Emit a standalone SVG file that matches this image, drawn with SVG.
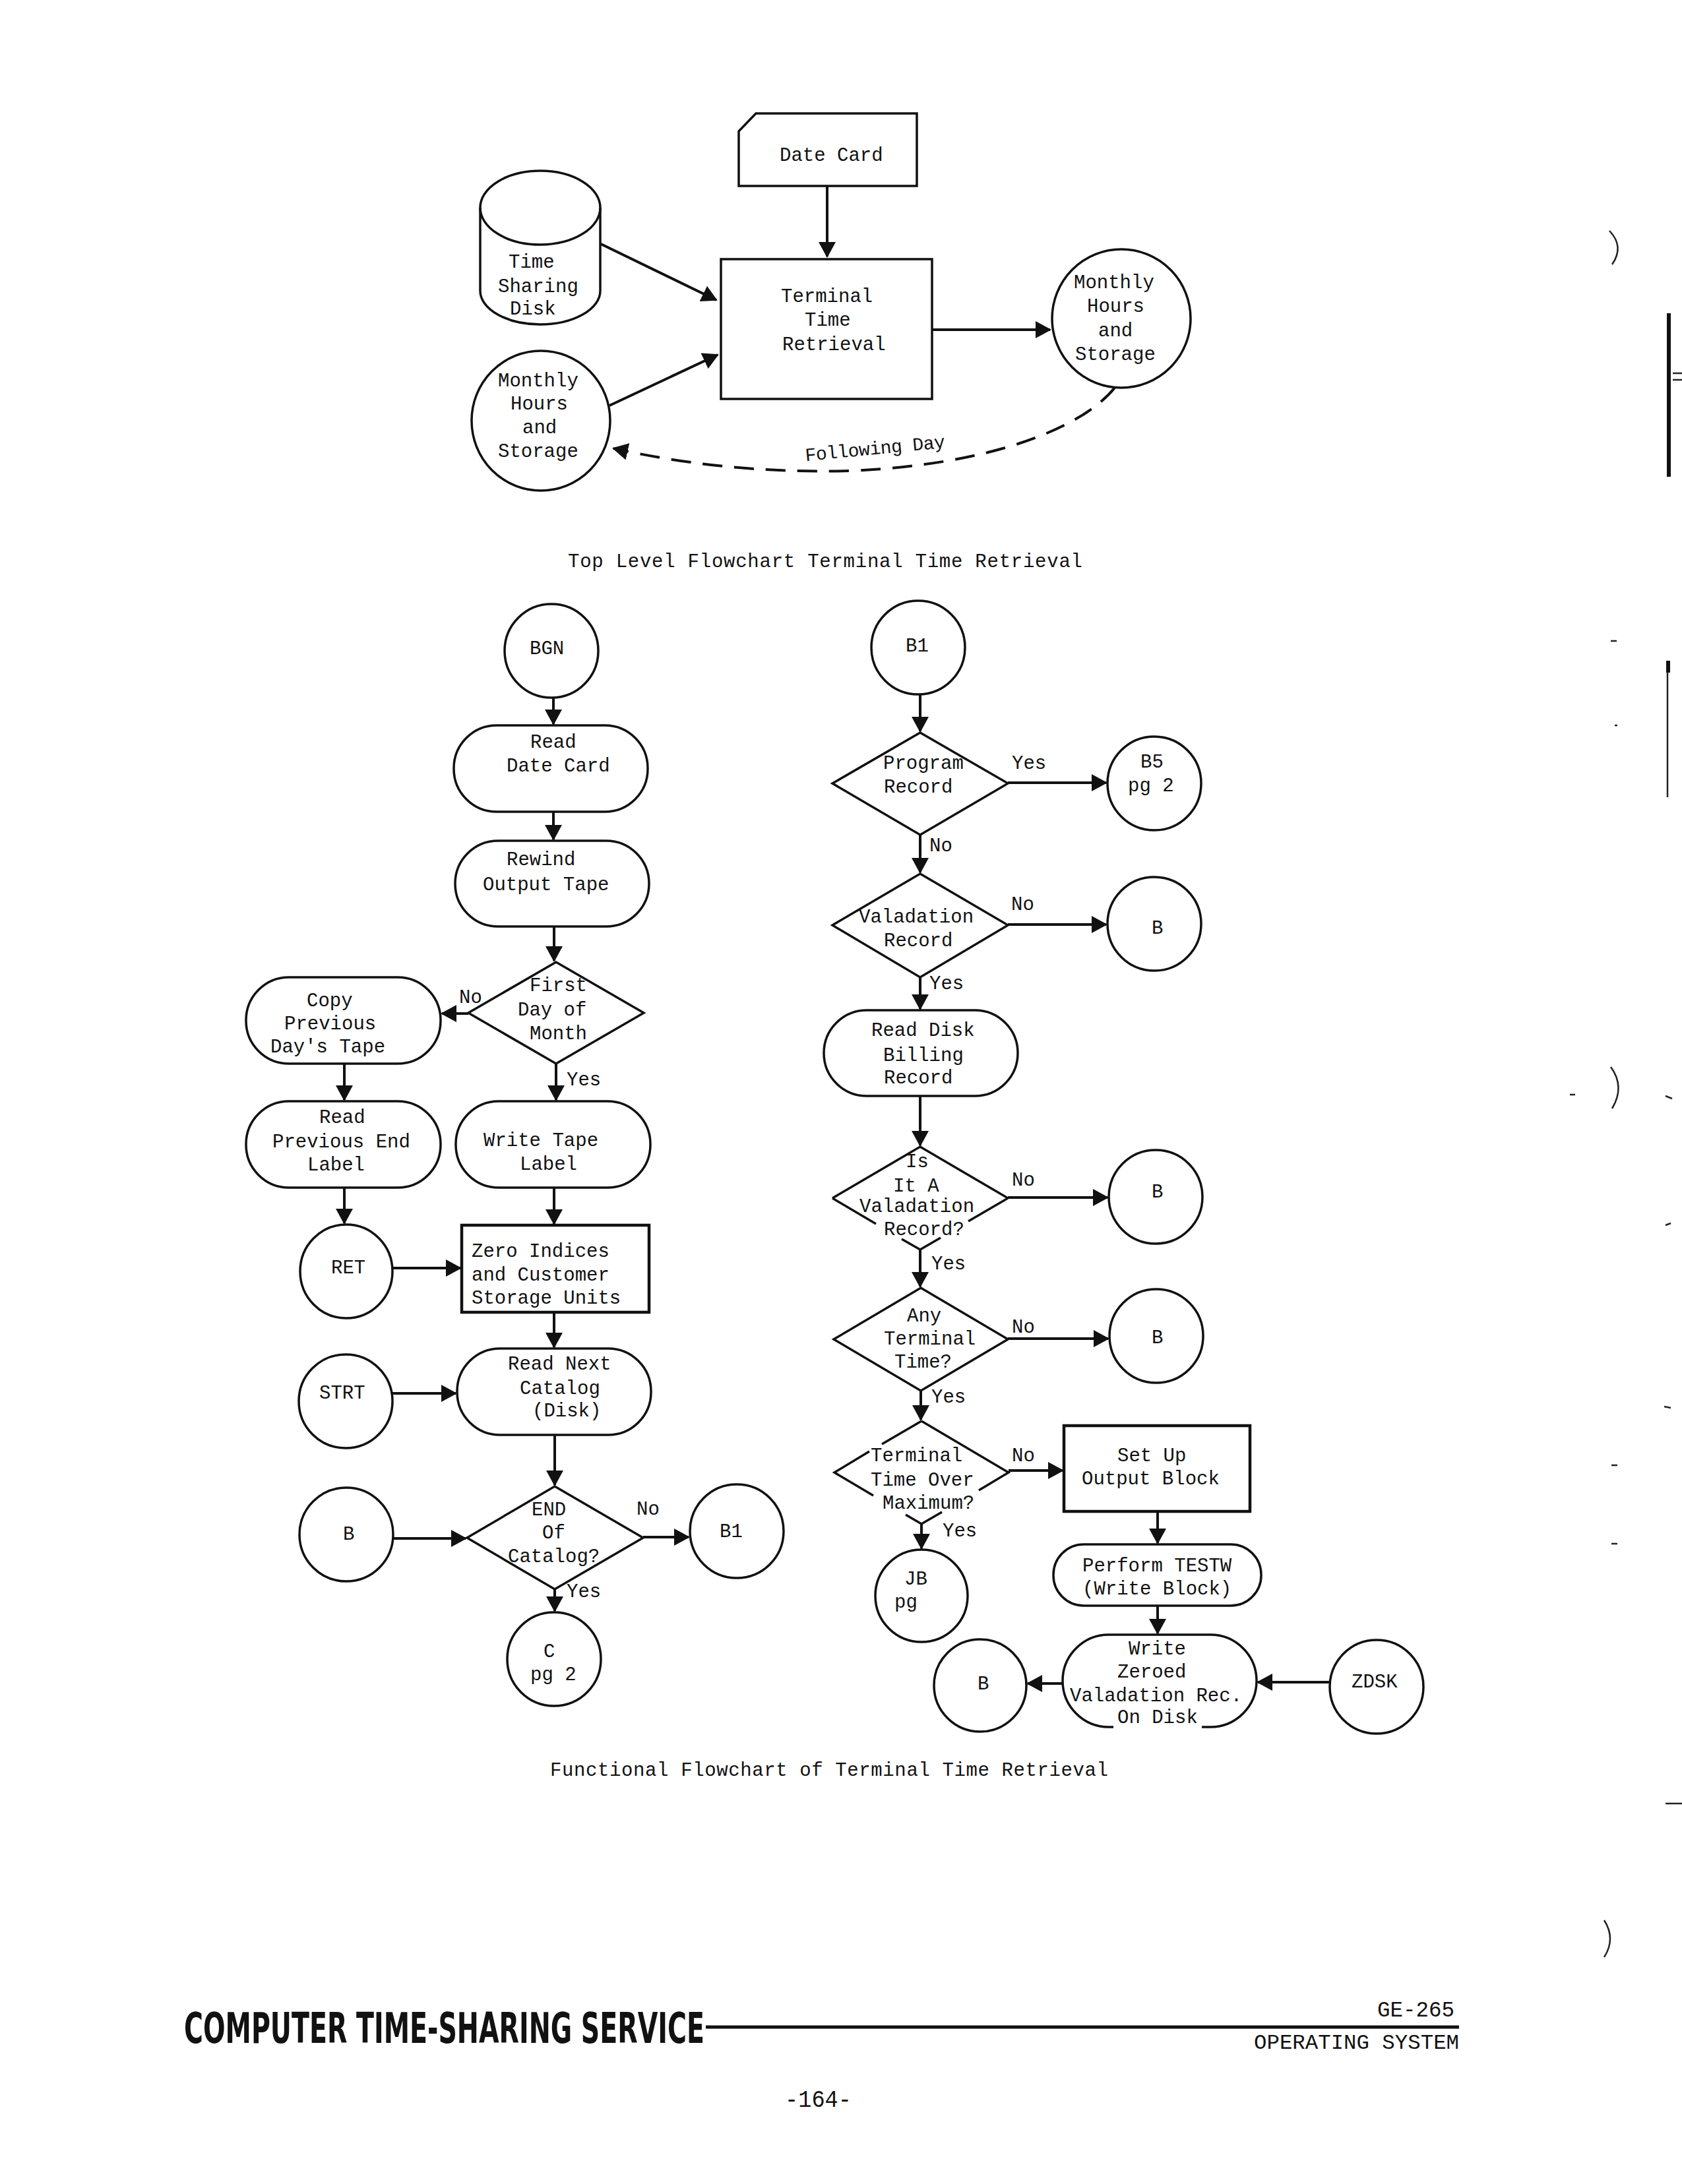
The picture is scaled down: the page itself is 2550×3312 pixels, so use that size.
<svg xmlns="http://www.w3.org/2000/svg" width="2550" height="3312" viewBox="0 0 2550 3312">
<defs>
  <marker id="ah" viewBox="0 0 24 26" refX="22" refY="13" markerWidth="24" markerHeight="26" markerUnits="userSpaceOnUse" orient="auto">
    <path d="M0,0 L24,13 L0,26 Z" fill="#111"/>
  </marker>
</defs>
<style>
  .shape{fill:none;stroke:#111;stroke-width:3.5}
  .heavy{fill:none;stroke:#111;stroke-width:4.5}
  .link{fill:none;stroke:#111;stroke-width:4;marker-end:url(#ah)}
  .dash{fill:none;stroke:#111;stroke-width:4;stroke-dasharray:30 18;marker-end:url(#ah)}
  text{font-family:"Liberation Mono","DejaVu Sans Mono",monospace;font-size:29px;fill:#111}
  text.follow{font-size:28px}
  text.brand{font-family:"Liberation Sans Narrow","DejaVu Sans Condensed","Liberation Sans",sans-serif;font-weight:bold;font-size:64px}
  text.model{font-size:33px}
  text.osys{font-size:32px}
  text.pageno{font-size:36px}
  .mark{fill:none;stroke:#222;stroke-width:2.5}
</style>
<rect width="2550" height="3312" fill="#fff"/>

<!-- ===== Top level flowchart ===== -->
<g id="date-card">
  <path class="shape" d="M1146 172 L1390 172 L1390 282 L1120 282 L1120 199 Z"/>
  <text x="1182" y="244">Date Card</text>
</g>
<g id="ts-disk">
  <ellipse class="shape" cx="819" cy="315" rx="91" ry="56"/>
  <path class="shape" d="M728 315 L728 441 A91 51 0 0 0 910 441 L910 315"/>
  <text x="771" y="406">Time</text>
  <text x="755" y="443">Sharing</text>
  <text x="773" y="477">Disk</text>
</g>
<g id="ttr">
  <rect class="shape" x="1093" y="393" width="320" height="212"/>
  <text x="1184" y="458">Terminal</text>
  <text x="1220" y="494">Time</text>
  <text x="1186" y="531">Retrieval</text>
</g>
<g id="mhs-in">
  <ellipse class="shape" cx="820" cy="638" rx="105" ry="106"/>
  <text x="755" y="586">Monthly</text>
  <text x="774" y="621">Hours</text>
  <text x="792" y="657">and</text>
  <text x="755" y="693">Storage</text>
</g>
<g id="mhs-out">
  <circle class="shape" cx="1700" cy="483" r="105"/>
  <text x="1628" y="437">Monthly</text>
  <text x="1648" y="473">Hours</text>
  <text x="1665" y="510">and</text>
  <text x="1630" y="546">Storage</text>
</g>
<text id="top-caption" x="861" y="860" textLength="780">Top Level  Flowchart  Terminal Time Retrieval</text>

<!-- ===== Functional flowchart: left column ===== -->
<g id="bgn"><circle class="shape" cx="836" cy="987" r="71"/><text x="803" y="992">BGN</text></g>
<g id="read-date-card">
  <rect class="shape" x="688" y="1100" width="294" height="131" rx="65" ry="65"/>
  <text x="804" y="1134">Read</text>
  <text x="768" y="1170">Date Card</text>
</g>
<g id="rewind">
  <rect class="shape" x="690" y="1275" width="294" height="130" rx="65" ry="65"/>
  <text x="768" y="1312">Rewind</text>
  <text x="732" y="1350">Output Tape</text>
</g>
<g id="first-day">
  <polygon class="shape" points="843,1459 976,1536 843,1613 710,1536"/>
  <text x="803" y="1503">First</text>
  <text x="785" y="1540">Day of</text>
  <text x="803" y="1576">Month</text>
</g>
<g id="copy-prev">
  <rect class="shape" x="373" y="1482" width="295" height="131" rx="65" ry="65"/>
  <text x="465" y="1526">Copy</text>
  <text x="431" y="1561">Previous</text>
  <text x="410" y="1596">Day's Tape</text>
</g>
<g id="read-prev-end">
  <rect class="shape" x="373" y="1670" width="295" height="131" rx="65" ry="65"/>
  <text x="484" y="1703">Read</text>
  <text x="413" y="1740">Previous End</text>
  <text x="466" y="1775">Label</text>
</g>
<g id="write-tape-label">
  <rect class="shape" x="691" y="1670" width="295" height="131" rx="65" ry="65"/>
  <text x="733" y="1738">Write Tape</text>
  <text x="788" y="1774">Label</text>
</g>
<g id="ret"><ellipse class="shape" cx="525" cy="1928" rx="70" ry="71"/><text x="502" y="1931">RET</text></g>
<g id="zero-indices">
  <rect class="heavy" x="700" y="1858" width="284" height="132"/>
  <text x="715" y="1906">Zero Indices</text>
  <text x="715" y="1942">and Customer</text>
  <text x="715" y="1977">Storage Units</text>
</g>
<g id="strt"><circle class="shape" cx="524" cy="2125" r="71"/><text x="484" y="2121">STRT</text></g>
<g id="read-next-catalog">
  <rect class="shape" x="693" y="2045" width="294" height="131" rx="65" ry="65"/>
  <text x="770" y="2077">Read Next</text>
  <text x="788" y="2114">Catalog</text>
  <text x="807" y="2148">(Disk)</text>
</g>
<g id="b-left"><circle class="shape" cx="525" cy="2327" r="71"/><text x="520" y="2335">B</text></g>
<g id="end-of-catalog">
  <polygon class="shape" points="841,2254 975,2332 841,2410 708,2332"/>
  <text x="806" y="2298">END</text>
  <text x="822" y="2333">Of</text>
  <text x="770" y="2369">Catalog?</text>
</g>
<g id="c-pg2">
  <circle class="shape" cx="840" cy="2516" r="71"/>
  <text x="824" y="2513">C</text>
  <text x="804" y="2548">pg 2</text>
</g>
<g id="b1-left"><circle class="shape" cx="1117" cy="2322" r="71"/><text x="1091" y="2331">B1</text></g>

<!-- ===== Functional flowchart: right column ===== -->
<g id="b1-top"><circle class="shape" cx="1392" cy="982" r="71"/><text x="1373" y="988">B1</text></g>
<g id="program-record">
  <polygon class="shape" points="1395,1111 1528,1188 1395,1266 1262,1188"/>
  <text x="1339" y="1166">Program</text>
  <text x="1340" y="1202">Record</text>
</g>
<g id="b5-pg2">
  <circle class="shape" cx="1750" cy="1188" r="71"/>
  <text x="1729" y="1164">B5</text>
  <text x="1710" y="1200">pg 2</text>
</g>
<g id="valadation-record">
  <polygon class="shape" points="1395,1325 1528,1403 1395,1482 1262,1403"/>
  <text x="1302" y="1399">Valadation</text>
  <text x="1340" y="1435">Record</text>
</g>
<g id="b-1"><circle class="shape" cx="1750" cy="1401" r="71"/><text x="1746" y="1416">B</text></g>
<g id="read-disk-billing">
  <rect class="shape" x="1249" y="1532" width="294" height="130" rx="65" ry="65"/>
  <text x="1321" y="1571">Read Disk</text>
  <text x="1339" y="1609">Billing</text>
  <text x="1340" y="1643">Record</text>
</g>
<g id="is-valadation">
  <path class="shape" d="M1262 1817 L1395 1739 L1528 1817 M1262 1817 L1328 1856 M1367 1879 L1395 1895 L1426 1877 M1528 1817 L1468 1852"/>
  <text x="1373" y="1770">Is</text>
  <text x="1354" y="1807">It A</text>
  <text x="1303" y="1838">Valadation</text>
  <text x="1340" y="1873">Record?</text>
</g>
<g id="b-2"><circle class="shape" cx="1752" cy="1815" r="71"/><text x="1746" y="1816">B</text></g>
<g id="any-terminal">
  <polygon class="shape" points="1396,1953 1528,2031 1396,2109 1264,2031"/>
  <text x="1375" y="2004">Any</text>
  <text x="1340" y="2039">Terminal</text>
  <text x="1356" y="2074">Time?</text>
</g>
<g id="b-3"><circle class="shape" cx="1753" cy="2026" r="71"/><text x="1746" y="2037">B</text></g>
<g id="time-over-max">
  <path class="shape" d="M1397 2155 L1337 2190 M1318 2201 L1265 2233 L1324 2268 M1373 2297 L1397 2311 L1428 2293 M1397 2155 L1529 2233 L1484 2260"/>
  <text x="1320" y="2216">Terminal</text>
  <text x="1320" y="2253">Time Over</text>
  <text x="1338" y="2288">Maximum?</text>
</g>
<g id="set-up-output">
  <rect class="heavy" x="1613" y="2162" width="282" height="130"/>
  <text x="1694" y="2216">Set Up</text>
  <text x="1640" y="2251">Output Block</text>
</g>
<g id="jb-pg">
  <circle class="shape" cx="1397" cy="2420" r="70"/>
  <text x="1371" y="2403">JB</text>
  <text x="1356" y="2438">pg</text>
</g>
<g id="perform-testw">
  <rect class="shape" x="1597" y="2342" width="315" height="93" rx="46" ry="46"/>
  <text x="1641" y="2383">Perform TESTW</text>
  <text x="1641" y="2418">(Write Block)</text>
</g>
<g id="write-zeroed">
  <path class="shape" d="M1688 2619 L1681 2619 A70 70 0 0 1 1681 2479 L1835 2479 A70 70 0 0 1 1835 2619 L1822 2619"/>
  <text x="1711" y="2509">Write</text>
  <text x="1694" y="2544">Zeroed</text>
  <text x="1622" y="2580">Valadation Rec.</text>
  <text x="1694" y="2613">On Disk</text>
</g>
<g id="b-4"><circle class="shape" cx="1486" cy="2556" r="70"/><text x="1482" y="2562">B</text></g>
<g id="zdsk"><circle class="shape" cx="2087" cy="2558" r="71"/><text x="2049" y="2559">ZDSK</text></g>

<text id="func-caption" x="834" y="2693" textLength="846">Functional  Flowchart  of Terminal Time Retrieval</text>

<!-- ===== Connectors ===== -->
<g id="connectors">
  <path class="link" d="M1254 282 L1254 389"/>
  <path class="link" d="M911 370 L1086 455"/>
  <path class="link" d="M924 615 L1088 538"/>
  <path class="link" d="M1413 500 L1592 500"/>
  <path class="dash" d="M1690 588 C1640 650 1500 705 1290 714 C1140 718 1020 700 930 680"/>

  <path class="link" d="M839 1059 L839 1098"/>
  <path class="link" d="M839 1231 L839 1273"/>
  <path class="link" d="M840 1405 L840 1457"/>
  <path class="link" d="M710 1537 L670 1537"/>
  <path class="link" d="M843 1613 L843 1668"/>
  <path class="link" d="M522 1613 L522 1668"/>
  <path class="link" d="M522 1801 L522 1855"/>
  <path class="link" d="M596 1923 L698 1923"/>
  <path class="link" d="M840 1801 L840 1856"/>
  <path class="link" d="M840 1990 L840 2043"/>
  <path class="link" d="M595 2113 L691 2113"/>
  <path class="link" d="M841 2176 L841 2252"/>
  <path class="link" d="M596 2333 L706 2333"/>
  <path class="link" d="M975 2331 L1044 2331"/>
  <path class="link" d="M841 2410 L841 2443"/>

  <path class="link" d="M1395 1053 L1395 1109"/>
  <path class="link" d="M1528 1187 L1677 1187"/>
  <path class="link" d="M1395 1266 L1395 1323"/>
  <path class="link" d="M1528 1402 L1677 1402"/>
  <path class="link" d="M1395 1482 L1395 1530"/>
  <path class="link" d="M1395 1662 L1395 1737"/>
  <path class="link" d="M1528 1816 L1679 1816"/>
  <path class="link" d="M1395 1895 L1395 1951"/>
  <path class="link" d="M1528 2030 L1680 2030"/>
  <path class="link" d="M1396 2109 L1396 2153"/>
  <path class="link" d="M1529 2230 L1611 2230"/>
  <path class="link" d="M1397 2311 L1397 2348"/>
  <path class="link" d="M1755 2292 L1755 2340"/>
  <path class="link" d="M1755 2435 L1755 2477"/>
  <path class="link" d="M1611 2553 L1558 2553"/>
  <path class="link" d="M2016 2551 L1907 2551"/>
</g>

<!-- ===== Connector labels ===== -->
<g id="edge-labels">
  <text class="follow" x="1221" y="689" textLength="213" transform="rotate(-5.5 1327 689)">Following Day</text>
  <text x="696" y="1521">No</text>
  <text x="859" y="1646">Yes</text>
  <text x="965" y="2297">No</text>
  <text x="859" y="2422">Yes</text>
  <text x="1534" y="1166">Yes</text>
  <text x="1409" y="1291">No</text>
  <text x="1533" y="1380">No</text>
  <text x="1409" y="1500">Yes</text>
  <text x="1534" y="1798">No</text>
  <text x="1412" y="1925">Yes</text>
  <text x="1534" y="2021">No</text>
  <text x="1412" y="2127">Yes</text>
  <text x="1534" y="2216">No</text>
  <text x="1429" y="2330">Yes</text>
</g>

<!-- ===== Page footer ===== -->
<g id="footer">
  <text class="brand" x="279" y="3098" textLength="789" lengthAdjust="spacingAndGlyphs">COMPUTER TIME-SHARING SERVICE</text>
  <path d="M1070 3074 L2212 3074" stroke="#111" stroke-width="5"/>
  <text class="model" x="2088" y="3058" textLength="117" lengthAdjust="spacingAndGlyphs">GE-265</text>
  <text class="osys" x="1901" y="3107" textLength="311" lengthAdjust="spacingAndGlyphs">OPERATING SYSTEM</text>
  <text class="pageno" x="1190" y="3195" textLength="101" lengthAdjust="spacingAndGlyphs">-164-</text>
</g>

<!-- ===== Margin marks ===== -->
<g id="margin-marks">
  <path class="mark" d="M2440 350 Q2463 374 2444 401"/>
  <rect x="2527" y="475" width="6" height="248" fill="#111"/>
  <path class="mark" stroke-width="1.5" d="M2536 566 L2550 566 M2536 576 L2550 576"/>
  <path class="mark" stroke-width="3" d="M2528 1002 L2528 1209"/>
  <rect x="2526" y="1002" width="6" height="18" fill="#111"/>
  <path class="mark" d="M2442 972 L2451 972 M2448 1100 L2452 1100"/>
  <path class="mark" d="M2442 1618 Q2464 1648 2444 1681"/>
  <path class="mark" d="M2380 1660 L2388 1660 M2525 1662 L2535 1666 M2525 1858 L2533 1855 M2523 2133 L2533 2135"/>
  <path class="mark" d="M2443 2222 L2452 2222 M2443 2341 L2452 2341"/>
  <path class="mark" d="M2525 2735 L2550 2735"/>
  <path class="mark" d="M2432 2912 Q2450 2940 2432 2968"/>
</g>
</svg>
